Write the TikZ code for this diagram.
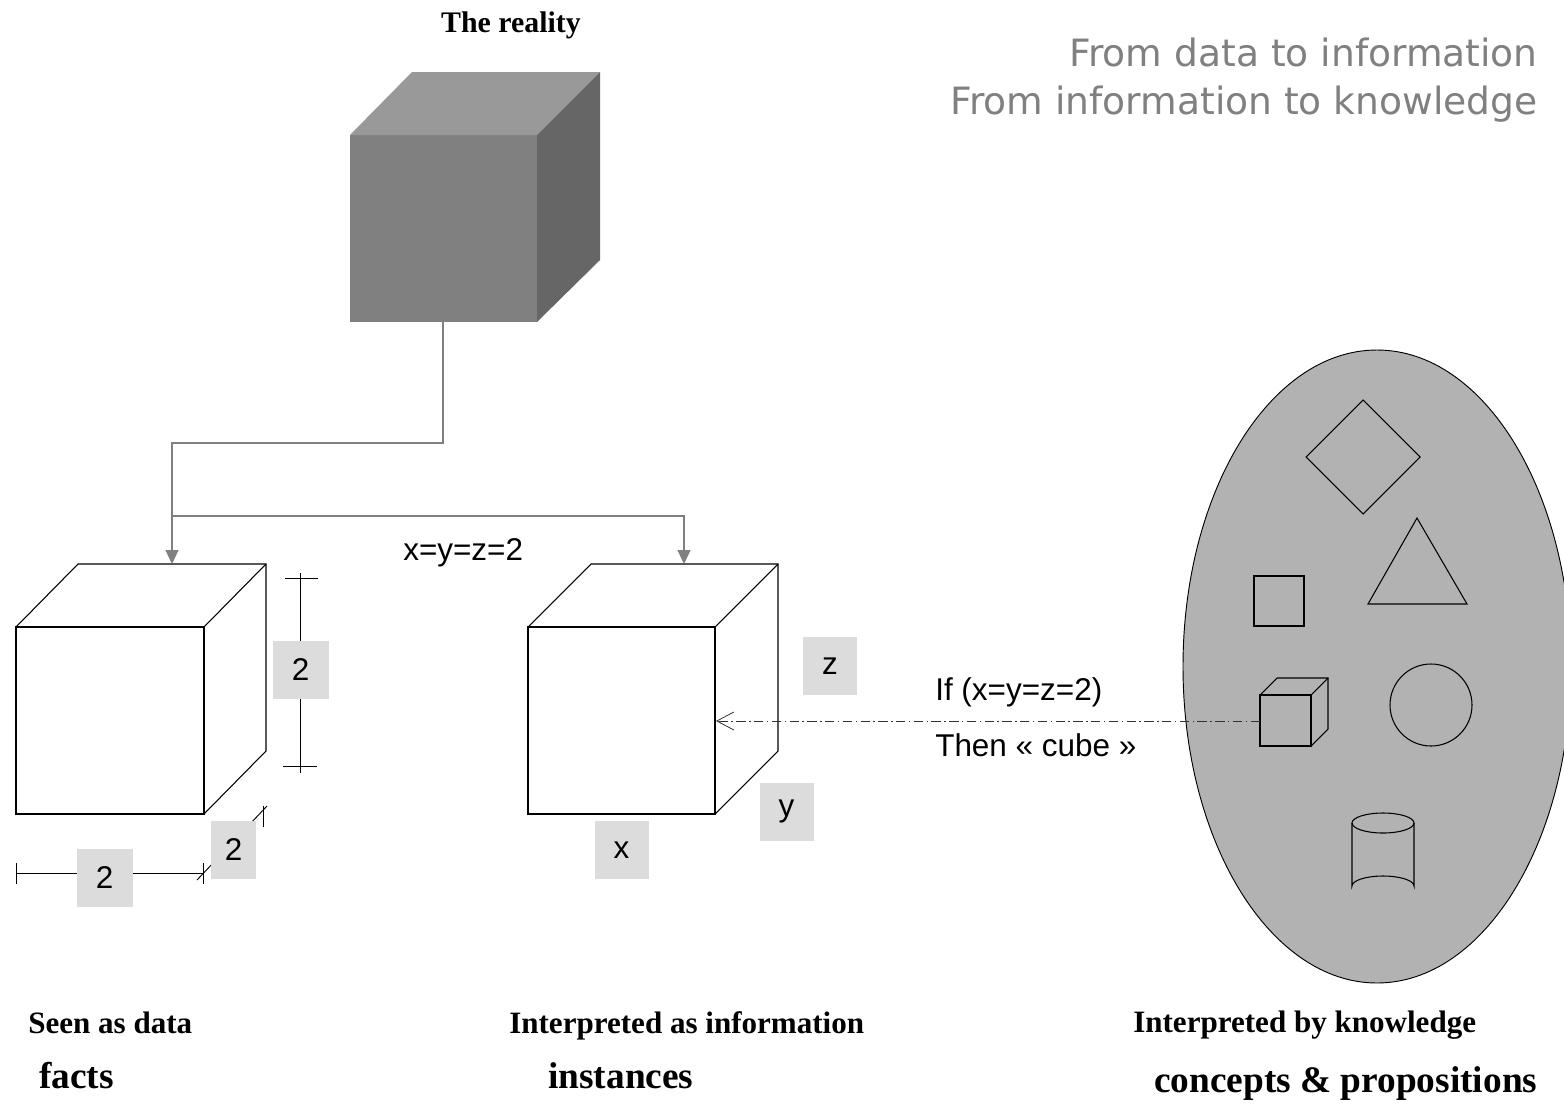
\documentclass[tikz,border=0pt]{standalone}
\usepackage{fontspec}
\setmainfont{Liberation Serif}
\newfontfamily\headfont{DejaVu Sans}
\newfontfamily\arialfont{Liberation Sans}
\usepackage{tikz}
\usetikzlibrary{arrows,arrows.meta}

\definecolor{boxgray}{RGB}{220,220,220}
\definecolor{ovalgray}{RGB}{178,178,178}
\definecolor{linkgray}{RGB}{128,128,128}
\definecolor{frontgray}{RGB}{128,128,128}
\definecolor{topgray}{RGB}{153,153,153}
\definecolor{sidegray}{RGB}{102,102,102}

\tikzset{
  cubeline/.style={line width=0.8pt, fill=white},
  treelink/.style={draw=linkgray, line width=0.8pt, -{Triangle[length=10.5pt,width=9.75pt]}, linkgray},
  dimline/.style={line width=0.7pt},
  dimbox/.style={fill=boxgray, inner sep=0pt, minimum width=42pt, minimum height=43.5pt, font=\arialfont\fontsize{23.6}{28}\selectfont},
  sanslabel/.style={inner sep=0pt, font=\arialfont\fontsize{23.6}{28}\selectfont},
  smallcap/.style={inner sep=0pt, font=\bfseries\fontsize{23.3}{28}\selectfont},
  bigcap/.style={inner sep=0pt, font=\bfseries\fontsize{28}{34}\selectfont},
  figure/.style={line width=0.8pt},
}

\begin{document}
\begin{tikzpicture}[x=0.75pt,y=0.75pt,yscale=-1,xscale=1]
\fill[white] (0,0) rectangle (1564,1111);
\useasboundingbox (0,0) rectangle (1564,1111);

%Shape: Cube [id:reality]
\fill[frontgray] (350,135) rectangle (537,322);
\fill[topgray] (350,135) -- (412,72) -- (600,72) -- (537,135) -- cycle;
\fill[sidegray] (537,135) -- (600,72) -- (600,260) -- (537,322) -- cycle;

%Shape: Cube [id:data]
\draw[cubeline] (16,627) -- (78,564) -- (266,564) -- (266,751) -- (204,814) -- (16,814) -- cycle;
\draw[cubeline] (16,627) rectangle (204,814);
\draw[line width=0.8pt] (204,627) -- (266,564);

%Shape: Cube [id:information]
\draw[cubeline] (528,627) -- (591,564) -- (778,564) -- (778,751) -- (715,814) -- (528,814) -- cycle;
\draw[cubeline] (528,627) rectangle (715,814);
\draw[line width=0.8pt] (715,627) -- (778,564);

% Connectors from the reality
\coordinate (reality) at (443,322);
\coordinate (fork) at (443,443);
\coordinate (split) at (172,516);
\coordinate (datacube) at (172,564);
\coordinate (infocube) at (684,564);
\draw[treelink] (reality) -- (fork) -| (datacube);
\draw[treelink] (split) -| (infocube);

% Dimension lines
\draw[dimline] (300,573) -- (300,773);
\draw[dimline] (285,578) -- (318,578);
\draw[dimline] (283,766) -- (317,766);
\draw[dimline] (16,873) -- (203,873);
\draw[dimline] (16,863) -- (16,884);
\draw[dimline] (203,863) -- (203,884);
\draw[dimline] (197,880) -- (267,806);
\draw[dimline] (263,806) -- (263,827);

% Text Node
\node (dimv) at (300.5,669.5) [dimbox] {2};
% Text Node
\node (dimh) at (104.5,878) [dimbox] {2};
% Text Node
\node (dimd) at (233.5,850) [dimbox, minimum width=33.75pt] {2};
% Text Node
\node (lblz) at (830,666) [dimbox, minimum width=40.5pt] {z};
% Text Node
\node (lbly) at (786.5,811.5) [dimbox, minimum width=40.5pt] {y};
% Text Node
\node (lblx) at (621.5,850) [dimbox, minimum width=40.5pt] {x};

%Shape: Ellipse [id:knowledge]
\draw[fill=ovalgray, line width=0.7pt] (1377,666.5) ellipse [x radius=194, y radius=316.5];

%Shape: Diamond
\draw[figure] (1363,400) -- (1420,457) -- (1363,514) -- (1306,457) -- cycle;
%Shape: Triangle
\draw[figure] (1417,518) -- (1467,604) -- (1368,604) -- cycle;
%Shape: Square
\draw[figure] (1254,576) rectangle (1304,626);
%Shape: Circle
\draw[figure] (1431,705) circle [radius=41];
%Shape: Cylinder
\draw[figure] (1383,823) ellipse [x radius=31, y radius=10];
\draw[figure] (1352,823) -- (1352,886) arc [start angle=180, end angle=360, x radius=31, y radius=10] -- (1414,823);
%Shape: Small cube
\draw[figure] (1260,695) -- (1277,678) -- (1328,678) -- (1328,729) -- (1311,746);
\draw[figure] (1260,695) rectangle (1311,746);
\draw[figure] (1311,695) -- (1328,678);

% Rule arrow
\coordinate (rulecube) at (1260,721);
\coordinate (infoface) at (716,721);
\draw[draw=black!80, line width=0.7pt, dash pattern=on 7pt off 2.6pt on 1.1pt off 2.6pt,
      -{Straight Barb[length=12.75pt,width=13.5pt,line width=0.6pt]}] (rulecube) -- (infoface);

% Text Node
\node (reallbl) at (511,32) [anchor=base, inner sep=0pt, font=\bfseries\fontsize{22.4}{27}\selectfont] {The reality};
% Text Node
\node (title1) at (1538,66) [anchor=base east, inner sep=0pt, text=linkgray, font=\headfont\fontsize{28.2}{34}\selectfont] {From data to information};
% Text Node
\node (title2) at (1538,114) [anchor=base east, inner sep=0pt, text=linkgray, font=\headfont\fontsize{28.2}{34}\selectfont] {From information to knowledge};
% Text Node
\node (xyz) at (403,560) [anchor=base west, sanslabel] {x=y=z=2};
% Text Node
\node (ifrule) at (935,700) [anchor=base west, sanslabel] {If (x=y=z=2)};
% Text Node
\node (thenrule) at (935,756) [anchor=base west, sanslabel] {Then « cube »};
% Text Node
\node (seen) at (28,1033) [anchor=base west, smallcap] {Seen as data};
% Text Node
\node (facts) at (39,1088) [anchor=base west, bigcap] {facts};
% Text Node
\node (interp) at (509,1033) [anchor=base west, smallcap] {Interpreted as information};
% Text Node
\node (inst) at (548,1088) [anchor=base west, bigcap] {instances};
% Text Node
\node (byknow) at (1133,1032) [anchor=base west, smallcap] {Interpreted by knowledge};
% Text Node
\node (concepts) at (1154,1092) [anchor=base west, bigcap] {concepts \& propositions};
\end{tikzpicture}
\end{document}
